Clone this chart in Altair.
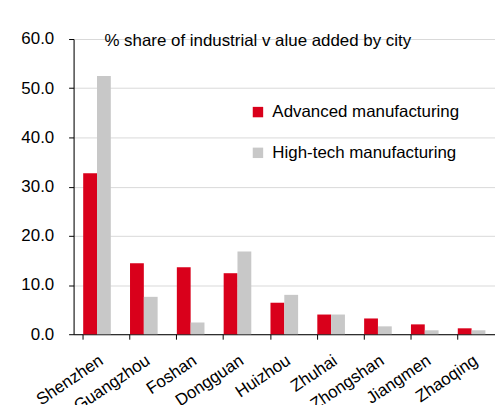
import altair as alt
import pandas as pd

cities = ["Shenzhen", "Guangzhou", "Foshan", "Dongguan", "Huizhou",
          "Zhuhai", "Zhongshan", "Jiangmen", "Zhaoqing"]
advanced = [32.7, 14.4, 13.6, 12.4, 6.4, 4.0, 3.2, 2.0, 1.2]
hightech = [52.5, 7.6, 2.4, 16.8, 8.0, 4.0, 1.6, 0.8, 0.8]
series = ["Advanced manufacturing", "High-tech manufacturing"]
colors = ["#D9001B", "#C8C8C8"]
title_text = "% share of industrial v alue added by city"

rows = []
for c, a, h in zip(cities, advanced, hightech):
    rows.append({"city": c, "series": series[0], "value": a})
    rows.append({"city": c, "series": series[1], "value": h})
df = pd.DataFrame(rows)

FONT = "Liberation Sans"

bars = alt.Chart(df).mark_bar().encode(
    x=alt.X("city:N", sort=cities, title=None,
            scale=alt.Scale(paddingInner=0.41, paddingOuter=0.205),
            axis=alt.Axis(labelAngle=326, labelAlign="right", labelBaseline="top",
                          labelFontSize=17, labelColor="#000", labelFont=FONT,
                          domainColor="#000", tickColor="#000", tickSize=5,
                          bandPosition=0, grid=False, labelPadding=13,
                          labelLimit=0)),
    xOffset=alt.XOffset("series:N", sort=series),
    y=alt.Y("value:Q", title=None,
            scale=alt.Scale(domain=[0, 60], nice=False),
            axis=alt.Axis(values=[0, 10, 20, 30, 40, 50, 60], format=".1f",
                          labelFontSize=17, labelColor="#000", labelFont=FONT,
                          domainColor="#000", tickColor="#000", tickSize=5,
                          gridColor="#D9D9D9", labelPadding=15)),
    color=alt.Color("series:N", sort=series,
                    scale=alt.Scale(domain=series, range=colors),
                    legend=alt.Legend(title=None, orient="none", legendX=177, legendY=65,
                                      symbolType="square", symbolSize=110,
                                      symbolStrokeWidth=0, labelFontSize=17,
                                      labelFont=FONT, labelColor="#000",
                                      rowPadding=23, labelOffset=6, labelLimit=0)),
)

title = alt.Chart(pd.DataFrame({"t": [title_text]})).mark_text(
    align="left", baseline="middle", fontSize=17, font=FONT, color="#000"
).encode(x=alt.value(31), y=alt.value(2), text="t:N")

chart = alt.layer(bars, title).properties(
    width=424, height=297,
    autosize=alt.AutoSizeParams(type="none"),
    padding={"left": 66, "top": 30, "right": 0, "bottom": 70},
).configure_view(stroke=None).configure(background="white")

chart.save("out.html", embed_options={"renderer": "svg", "actions": False})
